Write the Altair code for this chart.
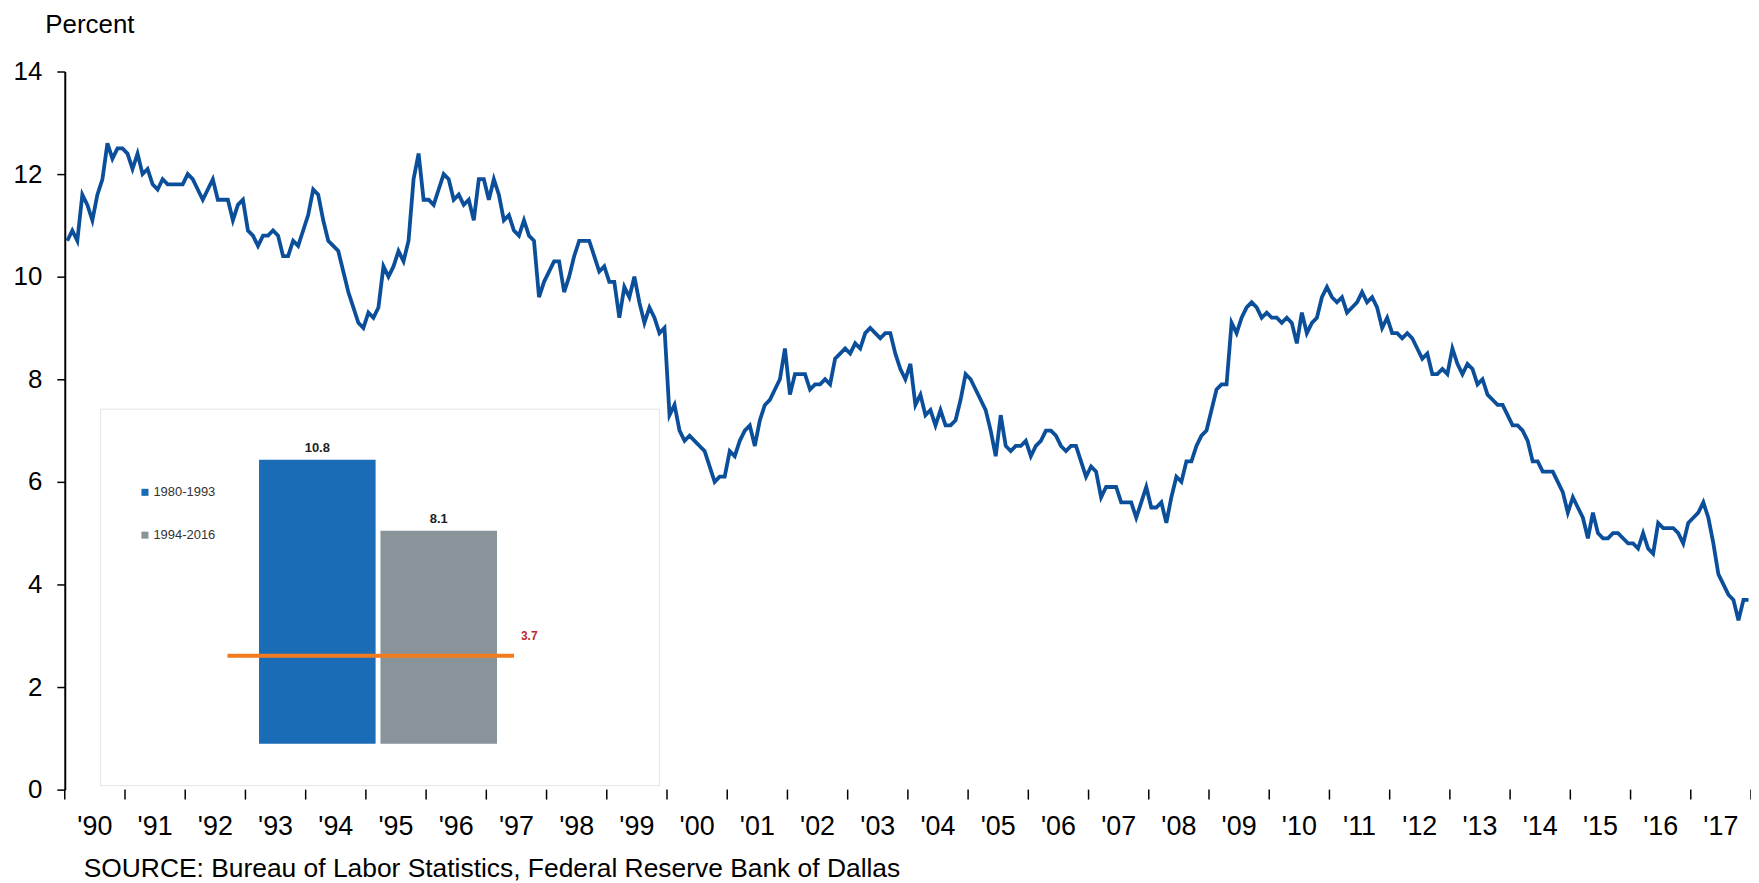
import altair as alt
import pandas as pd

# ---------------- data (monthly, Jan 1990 - Dec 2017) ----------------
r1990 = [10.7, 10.9, 10.7, 11.6, 11.4, 11.1, 11.6, 11.9, 12.6, 12.3, 12.5, 12.5]
r1991 = [12.4, 12.1, 12.4, 12.0, 12.1, 11.8, 11.7, 11.9, 11.8, 11.8, 11.8, 11.8]
r1992 = [12.0, 11.9, 11.7, 11.5, 11.7, 11.9, 11.5, 11.5, 11.5, 11.1, 11.4, 11.5]
r1993 = [10.9, 10.8, 10.6, 10.8, 10.8, 10.9, 10.8, 10.4, 10.4, 10.7, 10.6, 10.9]
r1994 = [11.2, 11.7, 11.6, 11.1, 10.7, 10.6, 10.5, 10.1, 9.7, 9.4, 9.1, 9.0]
r1995 = [9.3, 9.2, 9.4, 10.2, 10.0, 10.2, 10.5, 10.3, 10.7, 11.9, 12.4, 11.5]
r1996 = [11.5, 11.4, 11.7, 12.0, 11.9, 11.5, 11.6, 11.4, 11.5, 11.1, 11.9, 11.9]
r1997 = [11.5, 11.9, 11.6, 11.1, 11.2, 10.9, 10.8, 11.1, 10.8, 10.7, 9.6, 9.9]
r1998 = [10.1, 10.3, 10.3, 9.7, 10.0, 10.4, 10.7, 10.7, 10.7, 10.4, 10.1, 10.2]
r1999 = [9.9, 9.9, 9.2, 9.8, 9.6, 10.0, 9.5, 9.1, 9.4, 9.2, 8.9, 9.0]
r2000 = [7.3, 7.5, 7.0, 6.8, 6.9, 6.8, 6.7, 6.6, 6.3, 6.0, 6.1, 6.1]
r2001 = [6.6, 6.5, 6.8, 7.0, 7.1, 6.7, 7.2, 7.5, 7.6, 7.8, 8.0, 8.6]
r2002 = [7.7, 8.1, 8.1, 8.1, 7.8, 7.9, 7.9, 8.0, 7.9, 8.4, 8.5, 8.6]
r2003 = [8.5, 8.7, 8.6, 8.9, 9.0, 8.9, 8.8, 8.9, 8.9, 8.5, 8.2, 8.0]
r2004 = [8.3, 7.5, 7.7, 7.3, 7.4, 7.1, 7.4, 7.1, 7.1, 7.2, 7.6, 8.1]
r2005 = [8.0, 7.8, 7.6, 7.4, 7.0, 6.5, 7.3, 6.7, 6.6, 6.7, 6.7, 6.8]
r2006 = [6.5, 6.7, 6.8, 7.0, 7.0, 6.9, 6.7, 6.6, 6.7, 6.7, 6.4, 6.1]
r2007 = [6.3, 6.2, 5.7, 5.9, 5.9, 5.9, 5.6, 5.6, 5.6, 5.3, 5.6, 5.9]
r2008 = [5.5, 5.5, 5.6, 5.2, 5.7, 6.1, 6.0, 6.4, 6.4, 6.7, 6.9, 7.0]
r2009 = [7.4, 7.8, 7.9, 7.9, 9.1, 8.9, 9.2, 9.4, 9.5, 9.4, 9.2, 9.3]
r2010 = [9.2, 9.2, 9.1, 9.2, 9.1, 8.7, 9.3, 8.9, 9.1, 9.2, 9.6, 9.8]
r2011 = [9.6, 9.5, 9.6, 9.3, 9.4, 9.5, 9.7, 9.5, 9.6, 9.4, 9.0, 9.2]
r2012 = [8.9, 8.9, 8.8, 8.9, 8.8, 8.6, 8.4, 8.5, 8.1, 8.1, 8.2, 8.1]
r2013 = [8.6, 8.3, 8.1, 8.3, 8.2, 7.9, 8.0, 7.7, 7.6, 7.5, 7.5, 7.3]
r2014 = [7.1, 7.1, 7.0, 6.8, 6.4, 6.4, 6.2, 6.2, 6.2, 6.0, 5.8, 5.4]
r2015 = [5.7, 5.5, 5.3, 4.9, 5.4, 5.0, 4.9, 4.9, 5.0, 5.0, 4.9, 4.8]
r2016 = [4.8, 4.7, 5.0, 4.7, 4.6, 5.2, 5.1, 5.1, 5.1, 5.0, 4.8, 5.2]
r2017 = [5.3, 5.4, 5.6, 5.3, 4.8, 4.2, 4.0, 3.8, 3.7, 3.3, 3.7, 3.7]

start_year = 1990
end_year = 2018
year_labels = ["'90", "'91", "'92", "'93", "'94", "'95", "'96", "'97", "'98", "'99",
               "'00", "'01", "'02", "'03", "'04", "'05", "'06", "'07", "'08", "'09",
               "'10", "'11", "'12", "'13", "'14", "'15", "'16", "'17"]
y_ticks = [0, 2, 4, 6, 8, 10, 12, 14]

# inset
periods = ["1980-1993", "1994-2016"]
period_avgs = [10.8, 8.1]
current_rate = 3.7
current_level_drawn = 3.35   # where the orange line sits in the inset picture

source_text = "SOURCE: Bureau of Labor Statistics, Federal Reserve Bank of Dallas"

# ---------------- styling ----------------
FONT = "Liberation Sans"
W, H = 1693, 721
LINE_BLUE = "#0b4f9b"
BAR_COLORS = ["#1a6cb6", "#89939a"]
ORANGE = "#f27b20"
RED = "#c1272d"

rates = (r1990 + r1991 + r1992 + r1993 + r1994 + r1995 + r1996 + r1997 + r1998 + r1999 +
         r2000 + r2001 + r2002 + r2003 + r2004 + r2005 + r2006 + r2007 + r2008 + r2009 +
         r2010 + r2011 + r2012 + r2013 + r2014 + r2015 + r2016 + r2017)
df = pd.DataFrame({"t": [start_year + (i + 0.5) / 12 for i in range(len(rates))], "rate": rates})
lab_df = pd.DataFrame({"label": year_labels,
                       "mid": [start_year + k + 0.5 for k in range(len(year_labels))]})
tick_df = pd.DataFrame({"yr": list(range(start_year, end_year + 1))})

x_scale = alt.Scale(domain=[start_year, end_year], nice=False, zero=False)
y_scale = alt.Scale(domain=[0, 14], nice=False, zero=False)

line = alt.Chart(df).mark_line(color=LINE_BLUE, strokeWidth=3.8).encode(
    x=alt.X("t:Q", scale=x_scale,
            axis=alt.Axis(orient="bottom", values=list(range(start_year, end_year + 1)), labels=False,
                          ticks=True, tickSize=10, tickColor="black", tickWidth=1.5,
                          domainColor="black", domainWidth=2, grid=False, title=None)),
    y=alt.Y("rate:Q", scale=y_scale,
            axis=alt.Axis(orient="left", values=y_ticks, tickSize=8, tickColor="black", tickWidth=1.5,
                          domainColor="black", domainWidth=2, grid=False,
                          labelFont=FONT, labelFontSize=26, labelColor="black", labelPadding=15,
                          title="Percent", titleAngle=0, titleX=-20, titleY=-39, titleAlign="left",
                          titleBaseline="alphabetic", titleFont=FONT, titleFontSize=26,
                          titleFontWeight="normal", titleColor="black")),
)

# year-boundary tick marks below the axis line
year_ticks = alt.Chart(tick_df).mark_rule(color="black", strokeWidth=1.5).encode(
    x=alt.X("yr:Q", scale=x_scale, axis=None),
    y=alt.value(H),
    y2=alt.value(H + 10),
)

xlabels = alt.Chart(lab_df).mark_text(font=FONT, fontSize=27, color="black",
                                      align="center", baseline="alphabetic").encode(
    x=alt.X("mid:Q", scale=x_scale, axis=None),
    y=alt.value(H + 46),
    text="label:N",
)

source = alt.Chart(pd.DataFrame({"s": [source_text]})).mark_text(
    font=FONT, fontSize=26.5, color="black", align="left", baseline="alphabetic").encode(
    x=alt.value(19), y=alt.value(H + 88), text="s:N")

main = alt.layer(line, year_ticks, xlabels, source)

# ---------------- inset ----------------
inset_df = pd.DataFrame({"period": periods, "avg": period_avgs, "idx": list(range(len(periods)))})
cur_df = pd.DataFrame({"level": [current_level_drawn], "rate": [current_rate]})

ix = alt.Scale(domain=[-1.580, 12.308], nice=False, zero=False)
iy = alt.Scale(domain=[-1.742, 25.568], nice=False, zero=False)

box = alt.Chart(pd.DataFrame({"k": [0]})).mark_rect(fill="white", stroke="#e4e4e4", strokeWidth=1).encode(
    x=alt.value(36), x2=alt.value(597), y=alt.value(339), y2=alt.value(717))

bars = alt.Chart(inset_df).transform_calculate(
    x0="datum.idx + 0.02", x1="datum.idx + 0.98"
).mark_bar().encode(
    x=alt.X("x0:Q", scale=ix, axis=None),
    x2="x1:Q",
    y=alt.Y("avg:Q", scale=iy, axis=None),
    y2=alt.datum(0),
    color=alt.Color("period:N", scale=alt.Scale(domain=periods, range=BAR_COLORS),
                    legend=alt.Legend(orient="none", legendX=74, legendY=416, title=None,
                                      symbolType="square", symbolSize=50, symbolStrokeWidth=0,
                                      labelFont=FONT, labelFontSize=13, labelColor="#333333",
                                      rowPadding=29, labelOffset=2, padding=0)),
)

bar_labels = alt.Chart(inset_df).transform_calculate(xc="datum.idx + 0.5").mark_text(
    font=FONT, fontSize=13, fontWeight="bold", color="#222222", baseline="bottom", dy=-5).encode(
    x=alt.X("xc:Q", scale=ix, axis=None),
    y=alt.Y("avg:Q", scale=iy, axis=None),
    text=alt.Text("avg:Q", format=".1f"),
)

n_bars = len(periods)
cur_rule = alt.Chart(cur_df).transform_calculate(
    xa="-0.24", xb=f"{n_bars} + 0.12"
).mark_rule(color=ORANGE, strokeWidth=4).encode(
    x=alt.X("xa:Q", scale=ix, axis=None), x2="xb:Q",
    y=alt.Y("level:Q", scale=iy, axis=None),
)

cur_text = alt.Chart(cur_df).transform_calculate(xb=f"{n_bars} + 0.12").mark_text(
    font=FONT, fontSize=12, fontWeight="bold", color=RED, align="left", baseline="middle",
    dx=7, dy=-20).encode(
    x=alt.X("xb:Q", scale=ix, axis=None),
    y=alt.Y("level:Q", scale=iy, axis=None),
    text=alt.Text("rate:Q", format=".1f"),
)

inset = alt.layer(box, bars, bar_labels, cur_rule, cur_text)

chart = alt.layer(main, inset).resolve_scale(
    x="independent", y="independent", color="independent"
).properties(
    width=W, height=H,
    padding={"left": 57, "top": 62, "right": 0, "bottom": 94},
    autosize=alt.AutoSizeParams(type="none"),
    background="white",
).configure_view(stroke=None)

chart.save("out.html", embed_options={"renderer": "svg", "actions": False})
